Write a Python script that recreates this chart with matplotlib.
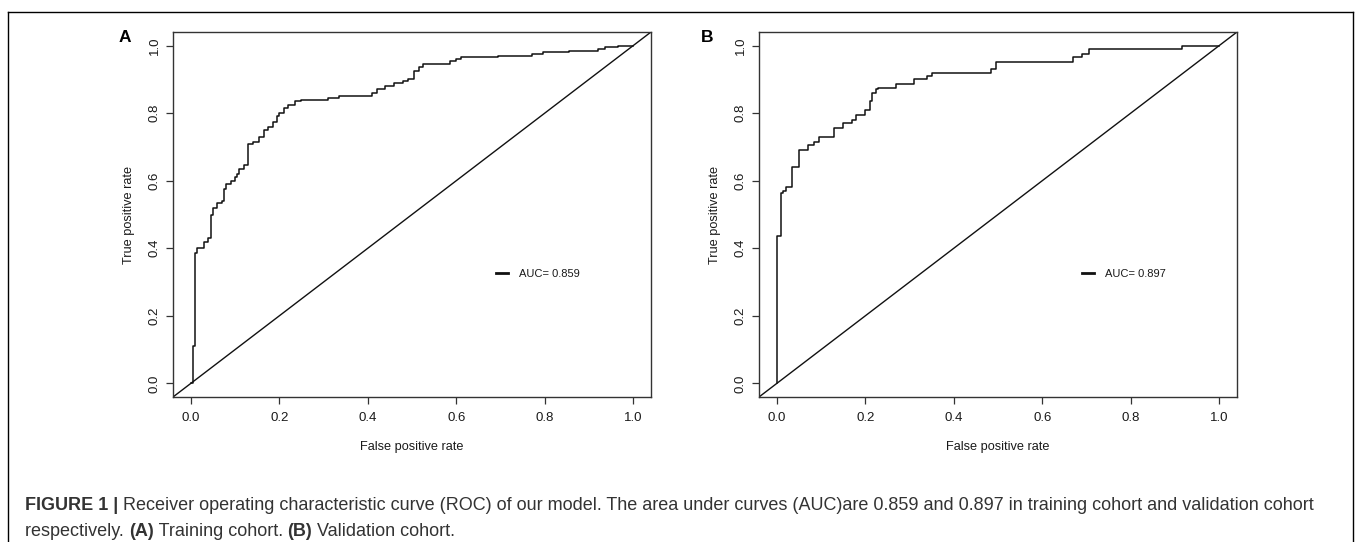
import matplotlib
matplotlib.use("Agg")
import matplotlib.pyplot as plt
from matplotlib.lines import Line2D

# ---------------- data ----------------
fpr_train = [0.0, 0.005, 0.01, 0.015, 0.03, 0.038, 0.045, 0.05, 0.06, 0.07, 0.075, 0.08, 0.09,
             0.10, 0.105, 0.11, 0.12, 0.13, 0.14, 0.155, 0.165, 0.175, 0.185, 0.195, 0.20,
             0.21, 0.22, 0.235, 0.25, 0.31, 0.335, 0.41, 0.42, 0.44, 0.46, 0.48, 0.49,
             0.505, 0.515, 0.525, 0.585, 0.60, 0.61, 0.695, 0.77, 0.795, 0.855, 0.92,
             0.935, 0.965, 1.0]
tpr_train = [0.0, 0.11, 0.385, 0.40, 0.42, 0.43, 0.50, 0.52, 0.535, 0.54, 0.575, 0.59, 0.60,
             0.61, 0.62, 0.635, 0.645, 0.71, 0.715, 0.73, 0.75, 0.76, 0.775, 0.79, 0.80,
             0.815, 0.825, 0.835, 0.84, 0.845, 0.85, 0.86, 0.87, 0.88, 0.89, 0.895, 0.90,
             0.925, 0.935, 0.945, 0.955, 0.96, 0.965, 0.97, 0.975, 0.98, 0.985, 0.99,
             0.995, 1.0, 1.0]

fpr_valid = [0.0, 0.0, 0.009, 0.015, 0.02, 0.035, 0.05, 0.07, 0.085, 0.095, 0.13, 0.15, 0.17,
             0.18, 0.20, 0.21, 0.215, 0.225, 0.23, 0.27, 0.31, 0.34, 0.35, 0.485, 0.495,
             0.67, 0.69, 0.705, 0.915, 1.0]
tpr_valid = [0.0, 0.435, 0.565, 0.57, 0.58, 0.64, 0.69, 0.705, 0.715, 0.73, 0.755, 0.77, 0.78,
             0.795, 0.81, 0.835, 0.86, 0.87, 0.875, 0.885, 0.90, 0.91, 0.92, 0.93, 0.95,
             0.965, 0.975, 0.99, 1.0, 1.0]

auc_values = [0.859, 0.897]
panel_letters = ["A", "B"]
tick_values = [0.0, 0.2, 0.4, 0.6, 0.8, 1.0]
tick_labels = ["0.0", "0.2", "0.4", "0.6", "0.8", "1.0"]
x_label = "False positive rate"
y_label = "True positive rate"

caption_line1 = [("FIGURE 1 |", "bold"),
                 (" Receiver operating characteristic curve (ROC) of our model. The area under curves "
                  "(AUC)are 0.859 and 0.897 in training cohort and validation cohort", "normal")]
caption_line2 = [("respectively. ", "normal"), ("(A)", "bold"), (" Training cohort. ", "normal"),
                 ("(B)", "bold"), (" Validation cohort.", "normal")]

# ---------------- figure ----------------
W, H = 1357, 542
fig = plt.figure(figsize=(W / 100, H / 100), dpi=100)
fig.patch.set_facecolor("white")

R_FONT = ["Liberation Sans Narrow", "Liberation Sans", "DejaVu Sans"]
CAP_FONT = ["Liberation Sans", "DejaVu Sans"]

# outer frame (open at bottom)
fx0, fx1, fy0 = 8 / W, 1353 / W, 1 - 12 / H
for xs, ys in [([fx0, fx0], [0, fy0]), ([fx0, fx1], [fy0, fy0]), ([fx1, fx1], [fy0, 0])]:
    fig.add_artist(Line2D(xs, ys, transform=fig.transFigure, color="black", lw=1.0))

ax_w, ax_h = 478 / W, 365 / H
ax_bottom = 1 - 397 / H
lefts = [173 / W, 759 / W]
datasets = [(fpr_train, tpr_train), (fpr_valid, tpr_valid)]

for i in range(2):
    ax = fig.add_axes([lefts[i], ax_bottom, ax_w, ax_h])
    fpr, tpr = datasets[i]
    ln, = ax.plot(fpr, tpr, drawstyle="steps-post", color="#111111", lw=1.1,
                  label=f"AUC= {auc_values[i]}")
    ax.axline((0, 0), (1, 1), color="#111111", lw=1.0)
    ax.set_xlim(-0.04, 1.04)
    ax.set_ylim(-0.04, 1.04)
    ax.set_xticks(tick_values)
    ax.set_xticklabels(tick_labels, family=R_FONT, fontsize=9.5, color="#1a1a1a")
    ax.set_yticks(tick_values)
    ax.set_yticklabels(tick_labels, family=R_FONT, fontsize=9.5, color="#1a1a1a",
                       rotation=90, va="center")
    ax.tick_params(axis="both", direction="out", length=5, width=0.9, color="#333333")
    ax.tick_params(axis="x", pad=6)
    ax.tick_params(axis="y", pad=4)
    for s in ax.spines.values():
        s.set_color("#333333")
        s.set_linewidth(1.0)
    ax.set_xlabel(x_label, family=R_FONT, fontsize=9.2, color="#1a1a1a", labelpad=12)
    ax.set_ylabel(y_label, family=R_FONT, fontsize=9.2, color="#1a1a1a", labelpad=10)
    leg = ax.legend(handles=[ln], loc="center left", bbox_to_anchor=(0.665, 0.337),
                    frameon=False, borderpad=0, handlelength=1.0, handletextpad=1.0,
                    prop={"family": R_FONT, "size": 8})
    for h in leg.get_lines():
        h.set_linewidth(2.0)
        h.set_drawstyle("default")
    for t in leg.get_texts():
        t.set_color("#1a1a1a")
    lx = (125 if i == 0 else 707) / W
    fig.text(lx, 1 - 37 / H, panel_letters[i], fontsize=12.5, fontweight="bold",
             family=CAP_FONT, ha="center", va="center", color="black")

# ---------------- caption ----------------
renderer = fig.canvas.get_renderer()
cap_size = 12.8
cap_color = "#333333"


def draw_line(pieces, x0_px, baseline_px, size):
    x = x0_px
    for txt, wt in pieces:
        t = fig.text(x / W, 1 - baseline_px / H, txt, fontsize=size, fontweight=wt,
                     family=CAP_FONT, color=cap_color, ha="left", va="baseline")
        x += t.get_window_extent(renderer).width
    return x


# fit caption size to the reference line width
probe = fig.text(0, 0, "".join(p for p, _ in caption_line1), fontsize=cap_size, family=CAP_FONT)
wpx = probe.get_window_extent(renderer).width
probe.remove()
cap_size = cap_size * 1288 / wpx

draw_line(caption_line1, 25, 510, cap_size)
draw_line(caption_line2, 25, 536, cap_size)

fig.savefig("out.png", dpi=100)
